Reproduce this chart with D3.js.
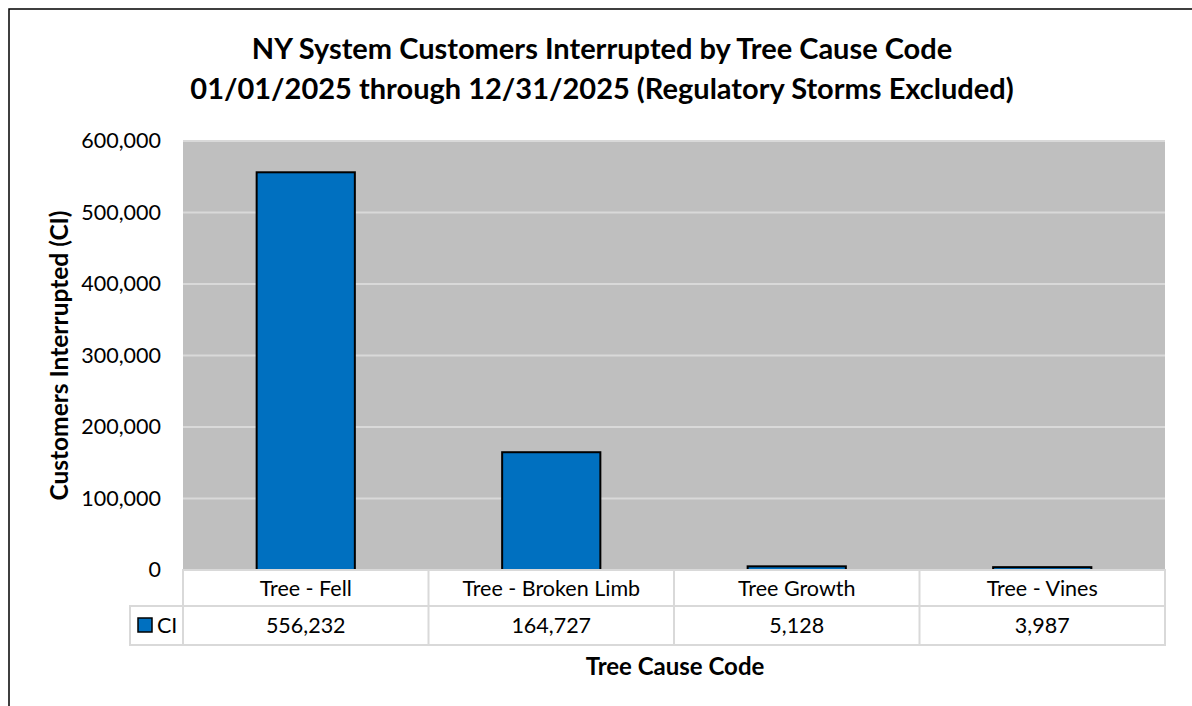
<!DOCTYPE html>
<html>
<head>
<meta charset="utf-8">
<script src="https://cdn.jsdelivr.net/npm/d3@7"></script>
<style>
  html, body { margin: 0; padding: 0; background: #fff; }
  svg { display: block; font-family: Lato, "Open Sans", sans-serif; }
</style>
</head>
<body>
<svg id="chart" width="1192" height="706"></svg>
<script>
// Tree-related outage causes and customers interrupted
const categories = ["Tree - Fell", "Tree - Broken Limb", "Tree Growth", "Tree - Vines"];
const ciValues = [556232, 164727, 5128, 3987];
const yTicks = [0, 100000, 200000, 300000, 400000, 500000, 600000];
const seriesName = "CI";

const svg = d3.select("#chart");
const W = 1192, H = 706;
const plot = { left: 183, right: 1165, top: 141, bottom: 570 };
const rowH1 = 36, rowH2 = 39, legendLeft = 130;
const labelSize = 21.5;

// chart frame
svg.append("rect").attr("x", 9).attr("y", 9).attr("width", W + 20).attr("height", H + 20)
  .attr("fill", "#fff").attr("stroke", "#000").attr("stroke-width", 1.5);

// title
const title = svg.append("text").attr("text-anchor", "middle")
  .attr("font-weight", "bold").attr("font-size", 29).attr("fill", "#000");
title.append("tspan").attr("x", 602).attr("y", 59).text("NY System Customers Interrupted by Tree Cause Code");
title.append("tspan").attr("x", 602).attr("y", 99).text("01/01/2025 through 12/31/2025 (Regulatory Storms Excluded)");

const x = d3.scaleBand().domain(categories).range([plot.left, plot.right]).paddingInner(0).paddingOuter(0);
const y = d3.scaleLinear().domain([0, 600000]).range([plot.bottom, plot.top]);

// plot background
svg.append("rect").attr("x", plot.left).attr("y", plot.top)
  .attr("width", plot.right - plot.left).attr("height", plot.bottom - plot.top)
  .attr("fill", "#bfbfbf");

// gridlines
svg.append("g").selectAll("line").data(yTicks.filter(d => d > 0)).join("line")
  .attr("x1", plot.left).attr("x2", plot.right)
  .attr("y1", d => y(d)).attr("y2", d => y(d))
  .attr("stroke", "#d9d9d9").attr("stroke-width", 2);

// y axis labels
const yAxis = d3.axisLeft(y).tickValues(yTicks).tickSize(0).tickPadding(0)
  .tickFormat(d3.format(","));
const gy = svg.append("g").attr("transform", `translate(${plot.left - 22},0)`).call(yAxis);
gy.select(".domain").remove();
gy.selectAll("text").attr("font-size", labelSize).attr("fill", "#000")
  .attr("font-family", "Lato, 'Open Sans', sans-serif").attr("dy", "0.32em");

// bars
const barW = x.bandwidth() * 0.4;
svg.append("g").selectAll("rect").data(categories).join("rect")
  .attr("x", d => x(d) + (x.bandwidth() - barW) / 2)
  .attr("y", (d, i) => y(ciValues[i]))
  .attr("width", barW)
  .attr("height", (d, i) => y(0) - y(ciValues[i]))
  .attr("fill", "#0070c0").attr("stroke", "#000").attr("stroke-width", 2);

// data table
const tbl = svg.append("g");
const tStroke = "#d9d9d9";
const r1 = plot.bottom, r2 = plot.bottom + rowH1, r3 = r2 + rowH2;
tbl.append("rect").attr("x", plot.left).attr("y", r1).attr("width", plot.right - plot.left).attr("height", rowH1)
  .attr("fill", "#fff").attr("stroke", tStroke).attr("stroke-width", 2);
tbl.append("rect").attr("x", legendLeft).attr("y", r2).attr("width", plot.right - legendLeft).attr("height", rowH2)
  .attr("fill", "#fff").attr("stroke", tStroke).attr("stroke-width", 2);
tbl.append("line").attr("x1", plot.left).attr("x2", plot.left).attr("y1", r1).attr("y2", r3)
  .attr("stroke", tStroke).attr("stroke-width", 2);
tbl.selectAll("line.div").data(categories.slice(1)).join("line").attr("class", "div")
  .attr("x1", d => x(d)).attr("x2", d => x(d)).attr("y1", r1).attr("y2", r3)
  .attr("stroke", tStroke).attr("stroke-width", 2);

tbl.selectAll("text.cat").data(categories).join("text").attr("class", "cat")
  .attr("x", d => x(d) + x.bandwidth() / 2).attr("y", r1 + rowH1 / 2)
  .attr("dy", "0.35em").attr("text-anchor", "middle").attr("font-size", labelSize).attr("fill", "#000")
  .text(d => d);
tbl.selectAll("text.val").data(categories).join("text").attr("class", "val")
  .attr("x", d => x(d) + x.bandwidth() / 2).attr("y", r2 + rowH2 / 2)
  .attr("dy", "0.35em").attr("text-anchor", "middle").attr("font-size", labelSize).attr("fill", "#000")
  .text((d, i) => d3.format(",")(ciValues[i]));

// legend key inside the table
tbl.append("rect").attr("x", 138).attr("y", r2 + 12).attr("width", 14).attr("height", 14)
  .attr("fill", "#0070c0").attr("stroke", "#000").attr("stroke-width", 1.5);
tbl.append("text").attr("x", 157).attr("y", r2 + rowH2 / 2).attr("dy", "0.35em")
  .attr("font-size", labelSize).attr("fill", "#000").text(seriesName);

// axis titles
svg.append("text").attr("transform", `translate(68,${(plot.top + plot.bottom) / 2}) rotate(-90)`)
  .attr("text-anchor", "middle").attr("font-weight", "bold").attr("font-size", 24.5).attr("fill", "#000")
  .text("Customers Interrupted (CI)");
svg.append("text").attr("x", 675).attr("y", 675).attr("text-anchor", "middle")
  .attr("font-weight", "bold").attr("font-size", 24).attr("fill", "#000")
  .text("Tree Cause Code");
</script>
</body>
</html>
